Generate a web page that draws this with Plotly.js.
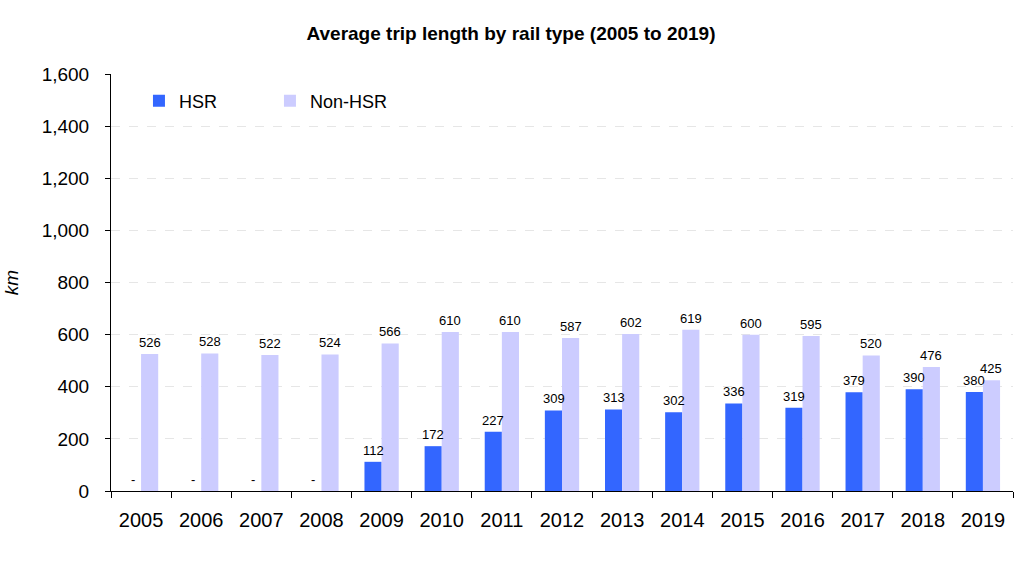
<!DOCTYPE html>
<html>
<head>
<meta charset="utf-8">
<script src="https://cdn.plot.ly/plotly-3.0.1.min.js"></script>
<style>html,body{margin:0;padding:0;background:#fff;}#chart{width:1022px;height:564px;}</style>
</head>
<body>
<div id="chart"></div>
<script>
var years = ["2005","2006","2007","2008","2009","2010","2011","2012","2013","2014","2015","2016","2017","2018","2019"];
var hsr = [null,null,null,null,112,172,227,309,313,302,336,319,379,390,380];
var nonHsr = [526,528,522,524,566,610,610,587,602,619,600,595,520,476,425];
var yTicks = [0,200,400,600,800,1000,1200,1400,1600];
var yTickLabels = ["0","200","400","600","800","1,000","1,200","1,400","1,600"];

var font = "Liberation Sans, Arial, sans-serif";
var traces = [
  {
    type: "bar", name: "HSR", x: years, y: hsr,
    marker: {color: "#3366FF"}, hoverinfo: "skip"
  },
  {
    type: "bar", name: "Non-HSR", x: years, y: nonHsr,
    marker: {color: "#CCCCFF"}, hoverinfo: "skip"
  }
];

var annotations = [];
years.forEach(function(yr, i){
  annotations.push({
    x: i, y: hsr[i] === null ? 0 : hsr[i], xref: "x", yref: "y",
    text: hsr[i] === null ? "-" : String(hsr[i]),
    showarrow: false, xanchor: "center", yanchor: "bottom", xshift: -8.5, yshift: 2,
    font: {family: font, size: 13, color: "#000"}
  });
  annotations.push({
    x: i, y: nonHsr[i], xref: "x", yref: "y",
    text: String(nonHsr[i]),
    showarrow: false, xanchor: "center", yanchor: "bottom", xshift: 8.5, yshift: 2,
    font: {family: font, size: 13, color: "#000"}
  });
});

var layout = {
  width: 1022, height: 564,
  margin: {l: 111, r: 9, t: 74, b: 73},
  paper_bgcolor: "#fff", plot_bgcolor: "#fff",
  font: {family: font, size: 19, color: "#000"},
  title: {text: "<b>Average trip length by rail type (2005 to 2019)</b>", x: 0.5, xanchor: "center", y: 0.94, yanchor: "middle", font: {family: font, size: 19, color: "#000"}},
  barmode: "group", bargap: 0.43, bargroupgap: 0,
  showlegend: true,
  legend: {orientation: "h", x: 0.031, y: 0.935, xanchor: "left", yanchor: "middle", font: {family: font, size: 18}, itemwidth: 30, tracegroupgap: 0, bgcolor: "rgba(0,0,0,0)", entrywidth: 86},
  annotations: annotations,
  xaxis: {
    type: "category", categoryorder: "array", categoryarray: years,
    range: [-0.5, years.length - 0.5],
    showline: true, linecolor: "#000", linewidth: 1,
    ticks: "outside", tickson: "boundaries", ticklen: 6, tickcolor: "#000",
    showgrid: false, tickfont: {family: font, size: 20}, ticklabelstandoff: 11
  },
  yaxis: {
    range: [0, 1600], tickvals: yTicks, ticktext: yTickLabels,
    showline: true, linecolor: "#000", linewidth: 1,
    ticks: "outside", ticklen: 5, tickcolor: "#000",
    showgrid: true, gridcolor: "#e6e6e6", griddash: "dash", gridwidth: 1,
    zeroline: false, tickfont: {family: font, size: 19}, ticklabelstandoff: 12,
    title: {text: "<i>km</i>", font: {family: font, size: 19}, standoff: 18}
  }
};
Plotly.newPlot("chart", traces, layout, {staticPlot: true, displayModeBar: false});
</script>
</body>
</html>
